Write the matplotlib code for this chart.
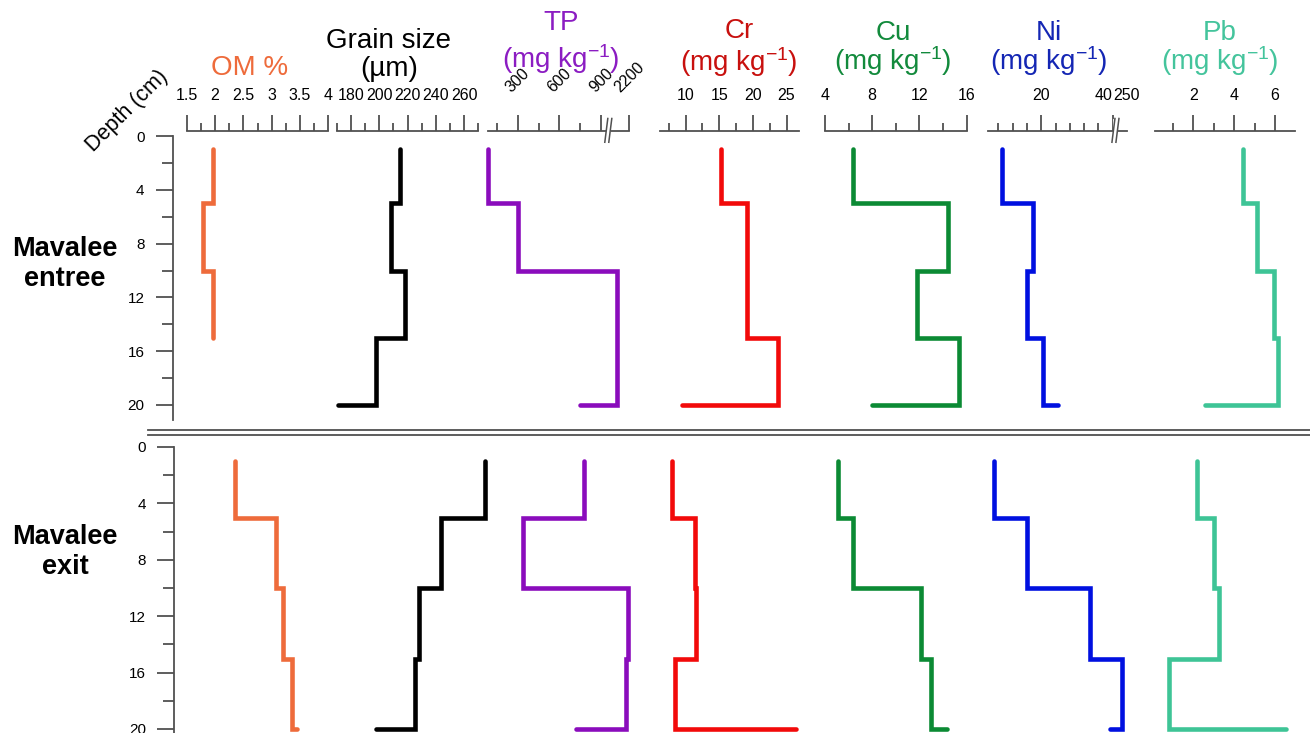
import numpy as np
import matplotlib
matplotlib.use('Agg')
import matplotlib.pyplot as plt
from matplotlib import transforms
from matplotlib.lines import Line2D
from matplotlib.ticker import FixedLocator, FormatStrFormatter

plt.rcParams['font.family'] = ['Liberation Sans', 'DejaVu Sans']
plt.rcParams['mathtext.default'] = 'regular'

W, H = 1310, 733

# sampling depths (cm)
depth = [1, 5, 10, 15, 20]

# values (top: entree, bottom: exit)
om_entree = [1.97, 1.79, 1.96, 1.96]
om_exit = [2.35, 3.07, 3.20, 3.36, 3.44]
grain_entree = [215, 208, 218, 198, 171]
grain_exit = [275, 244, 228, 225, 198]
tp_entree = [90, 304, 1925, 1925, 749]
tp_exit = [777, 336, 2165, 2120, 717]
cr_entree = [15.2, 19.1, 19.1, 23.8, 9.4]
cr_exit = [7.9, 11.4, 11.6, 8.4, 26.4]
cu_entree = [6.4, 14.45, 11.8, 15.35, 8.0]
cu_exit = [5.1, 6.4, 12.1, 13.0, 14.3]
ni_entree = [9.0, 17.6, 16.0, 20.6, 24.8]
ni_exit = [6.9, 16.0, 33.7, 42.6, 39.4]
pb_entree = [4.43, 5.10, 5.95, 6.13, 2.57]
pb_exit = [2.17, 3.03, 3.26, 0.82, 6.54]

depth_major = [0, 4, 8, 12, 16, 20]
depth_minor = [2, 6, 10, 14, 18]

unit = '(mg kg$^{-1}$)'
cols = [
    dict(title=['OM %'], tcol='#EE6B3B', lcol='#EE6B3B', px=(186.7, 328.3), lim=(1.5, 4),
         major=[1.5, 2, 2.5, 3, 3.5, 4], minor=[1.75, 2.25, 2.75, 3.25, 3.75],
         top=om_entree, bot=om_exit, fmt='%g'),
    dict(title=['Grain size', '(µm)'], tcol='black', lcol='black', px=(336.7, 478.3), lim=(170, 270),
         major=[180, 200, 220, 240, 260], minor=[170, 190, 210, 230, 250, 270],
         top=grain_entree, bot=grain_exit, fmt='%d'),
    dict(title=['TP', unit], tcol='#8B1CC2', lcol='#8A0CBC', px=(488.3, 629.3), lim=(90, 2200),
         major=[300, 600, 900, 2200], minor=[150, 450, 750],
         brk=([0, 90, 950, 1800, 2200, 3000], [475.8, 488.3, 608.3, 611.0, 629.3, 665.9]), brkv=950,
         top=tp_entree, bot=tp_exit, fmt='%d', rot=45),
    dict(title=['Cr', unit], tcol='#C8100E', lcol='#F20A0A', px=(660.0, 799.3), lim=(6.18, 26.9),
         major=[10, 15, 20, 25], minor=[7.5, 12.5, 17.5, 22.5],
         top=cr_entree, bot=cr_exit, fmt='%d'),
    dict(title=['Cu', unit], tcol='#128A3C', lcol='#0B8A34', px=(825.0, 966.7), lim=(4, 16),
         major=[4, 8, 12, 16], minor=[6, 10, 14],
         top=cu_entree, bot=cu_exit, fmt='%d'),
    dict(title=['Ni', unit], tcol='#1426B4', lcol='#0010E0', px=(987.7, 1126.7), lim=(5, 250),
         major=[20, 40, 250], minor=[8, 12, 16, 24, 28, 32, 36],
         brk=([0, 5, 43, 230, 250, 300], [969.9, 987.7, 1123.3, 1124.0, 1126.7, 1133.4]), brkv=40.8,
         top=ni_entree, bot=ni_exit, fmt='%d'),
    dict(title=['Pb', unit], tcol='#44C49C', lcol='#3EC496', px=(1155.0, 1295.0), lim=(0.12, 6.98),
         major=[2, 4, 6], minor=[1, 3, 5, 7],
         top=pb_entree, bot=pb_exit, fmt='%d'),
]

title_x = [250, 389, 561, 739, 893, 1049, 1220]
title_y = [(75,), (48, 76), (30, 68), (38, 71), (40, 70), (40, 70), (40, 70)]

fig = plt.figure(figsize=(W / 100, H / 100), dpi=100)


def px_axes(x0, y0, x1, y1):
    return fig.add_axes([x0 / W, 1 - y1 / H, (x1 - x0) / W, (y1 - y0) / H])


def set_scale(ax, c):
    if 'brk' in c:
        vs, ps = c['brk']
        ax.set_xscale('function', functions=(lambda v: np.interp(v, vs, ps),
                                             lambda p: np.interp(p, ps, vs)))
    ax.set_xlim(*c['lim'])


gray = '#505050'
panels = [(136, 405, 'top'), (447, 729, 'bot')]

for i, c in enumerate(cols):
    x0, x1 = c['px']
    # ruler
    r = px_axes(x0, 106, x1, 131)
    set_scale(r, c)
    r.set_ylim(0, 1)
    for s in ['top', 'left', 'right']:
        r.spines[s].set_visible(False)
    r.spines['bottom'].set_color(gray)
    r.spines['bottom'].set_linewidth(1.3)
    r.set_yticks([])
    r.xaxis.set_major_locator(FixedLocator(c['major']))
    r.xaxis.set_minor_locator(FixedLocator(c['minor']))
    r.xaxis.set_major_formatter(FormatStrFormatter(c['fmt']))
    r.patch.set_visible(False)
    pad = 8 if c.get('rot') else 2
    r.tick_params(axis='x', which='both', bottom=True, top=False, labelbottom=False,
                  labeltop=True, direction='in', color=gray, width=1.3, labelsize=11.5, pad=pad)
    r.tick_params(axis='x', which='major', length=11.5)
    r.tick_params(axis='x', which='minor', length=5.8)
    if c.get('rot'):
        for lbl in r.get_xticklabels():
            lbl.set_rotation(c['rot'])
    if 'brkv' in c:
        # axis-break mark "//" across the ruler line
        base = transforms.blended_transform_factory(r.transData, r.transAxes)
        r.plot([c['brkv']] * 2, [-0.3, 0.4], color='white', lw=3.5, clip_on=False, zorder=5,
               transform=base)
        for dx in (-2.0, 2.0):
            lo = transforms.offset_copy(base, fig=fig, x=dx - 1.5, y=0, units='dots')
            hi = transforms.offset_copy(base, fig=fig, x=dx + 1.5, y=0, units='dots')
            xb = c['brkv']
            p_lo = lo.transform((xb, -0.45))
            p_hi = hi.transform((xb, 0.5))
            fig.add_artist(Line2D([p_lo[0] / W, p_hi[0] / W], [p_lo[1] / H, p_hi[1] / H],
                                  color=gray, lw=1.1, zorder=6))
    if c['title'][0] == 'Ni':
        r.xaxis.get_major_ticks()[2].tick1line.set_visible(False)
        r.get_xticklabels()[1].set_horizontalalignment('right')

    # titles
    for txt, ty in zip(c['title'], title_y[i]):
        fig.text(title_x[i] / W, 1 - ty / H, txt, ha='center', va='baseline',
                 fontsize=20, color=c['tcol'])

    # profiles
    for y0, y1, key in panels:
        ax = px_axes(x0, y0, x1, y1)
        set_scale(ax, c)
        ax.set_ylim(20, 0)
        ax.axis('off')
        vals = c[key]
        ax.step(vals, depth[:len(vals)], where='pre', color=c['lcol'], lw=3.3,
                solid_capstyle='round', solid_joinstyle='miter', clip_on=False)

# depth axes
for (y0, y1, key), (ax_x, yb, name, cy) in zip(
        panels, [(173, 420, 'Mavalee\nentree', 264), (174.3, 733, 'Mavalee\nexit', 552)]):
    d = px_axes(ax_x, y0, ax_x + 10, yb)
    d.set_ylim((yb - y0) * 20 / (y1 - y0), 0)
    for s in ['top', 'bottom', 'right']:
        d.spines[s].set_visible(False)
    d.spines['left'].set_color(gray)
    d.spines['left'].set_linewidth(1.3)
    d.set_xticks([])
    d.patch.set_visible(False)
    d.yaxis.set_major_locator(FixedLocator(depth_major))
    d.yaxis.set_minor_locator(FixedLocator(depth_minor))
    d.tick_params(axis='y', which='both', color=gray, width=1.3, labelsize=11, pad=8)
    d.tick_params(axis='y', which='major', length=12.5)
    d.tick_params(axis='y', which='minor', length=8)
    fig.text(65 / W, 1 - cy / H, name, ha='center', va='center', fontsize=19.5,
             fontweight='bold', linespacing=1.15)

fig.text(127 / W, 1 - 111 / H, 'Depth (cm)', rotation=45, ha='center', va='center',
         fontsize=15.5)

for yy in (429.5, 434.5):
    fig.add_artist(Line2D([148 / W, 1.0], [1 - yy / H] * 2, color=gray, lw=1.3))

fig.savefig('out.png', dpi=100)
